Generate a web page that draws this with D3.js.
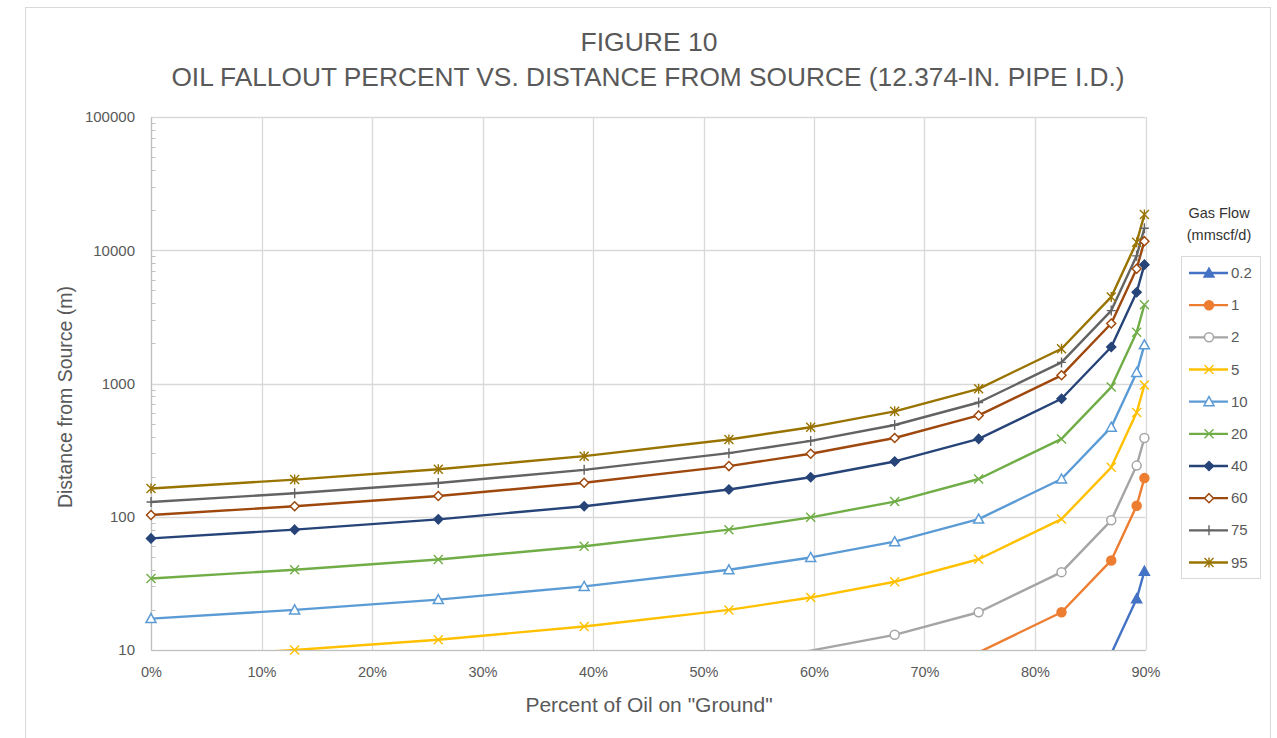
<!DOCTYPE html>
<html>
<head>
<meta charset="utf-8">
<script src="https://cdn.jsdelivr.net/npm/d3@7"></script>
<style>
  html, body { margin: 0; padding: 0; background: #fff; }
  svg { display: block; font-family: "Liberation Sans", Arial, Helvetica, sans-serif; }
</style>
</head>
<body>
<svg id="chart" width="1277" height="738"></svg>
<script>
// Fraction of oil that has fallen to the ground at each computed distance
const fallout = [0, 0.13, 0.26, 0.392, 0.523, 0.597, 0.673, 0.749, 0.824, 0.869, 0.892, 0.899];

// Gas flow rates (mmscf/d), one curve each
const gasFlows = ["0.2", "1", "2", "5", "10", "20", "40", "60", "75", "95"];

// Distance from source (m) for each gas flow
const dist_0_2 = [0.34, 0.40, 0.48, 0.60, 0.80, 0.99, 1.3, 1.92, 3.84, 9.4, 24.2, 39];
const dist_1   = [1.72, 2.0, 2.39, 3.0, 4.0, 4.95, 6.5, 9.6, 19.2, 47, 121, 195];
const dist_2   = [3.44, 4.0, 4.78, 6.0, 8.0, 9.9, 13.0, 19.2, 38.4, 94, 242, 390];
const dist_5   = [8.6, 10.0, 11.95, 15.0, 20.0, 24.75, 32.5, 48, 96, 235, 605, 975];
const dist_10  = [17.2, 20.0, 23.9, 30, 40, 49.5, 65, 96, 192, 470, 1210, 1950];
const dist_20  = [34.4, 40, 47.8, 60, 80, 99, 130, 192, 384, 940, 2420, 3900];
const dist_40  = [68.8, 80, 95.6, 120, 160, 198, 260, 384, 768, 1880, 4840, 7800];
const dist_60  = [103, 120, 143, 180, 240, 297, 390, 576, 1152, 2820, 7260, 11700];
const dist_75  = [129, 150, 179, 225, 300, 371, 488, 720, 1440, 3525, 9075, 14625];
const dist_95  = [163, 190, 227, 285, 380, 470, 618, 912, 1824, 4465, 11495, 18525];

const xTicks = [0, 0.1, 0.2, 0.3, 0.4, 0.5, 0.6, 0.7, 0.8, 0.9];
const yTicks = [10, 100, 1000, 10000, 100000];

const seriesValues = [dist_0_2, dist_1, dist_2, dist_5, dist_10, dist_20, dist_40, dist_60, dist_75, dist_95];
const seriesColors = ["#4472C4", "#ED7D31", "#A5A5A5", "#FFC000", "#5B9BD5", "#70AD47", "#264478", "#9E480E", "#636363", "#997300"];
const seriesMarkers = ["triangle", "circle", "circleOpen", "x", "triangleOpen", "x", "diamond", "diamondOpen", "plus", "star"];

const series = gasFlows.map((name, i) => ({
  name,
  color: seriesColors[i],
  marker: seriesMarkers[i],
  points: fallout.map((f, j) => ({ x: f, y: seriesValues[i][j] }))
}));

const svg = d3.select("#chart");
const plot = { left: 151, right: 1145.5, top: 117, bottom: 650 };
const textGrey = "#595959";
const gridGrey = "#D9D9D9";

// Outer chart frame
svg.append("rect")
  .attr("x", 25.5).attr("y", 7.5)
  .attr("width", 1245).attr("height", 760)
  .attr("fill", "#fff").attr("stroke", "#D9D9D9").attr("stroke-width", 1);

const x = d3.scaleLinear().domain([0, 0.9]).range([plot.left, plot.right]);
const y = d3.scaleLog().domain([10, 100000]).range([plot.bottom, plot.top]);

// Title
svg.append("text")
  .attr("x", 649).attr("y", 51)
  .attr("text-anchor", "middle")
  .attr("fill", textGrey)
  .style("font-size", "26.5px")
  .text("FIGURE 10");
svg.append("text")
  .attr("x", 648).attr("y", 86)
  .attr("text-anchor", "middle")
  .attr("fill", textGrey)
  .style("font-size", "26.3px")
  .text("OIL FALLOUT PERCENT VS. DISTANCE FROM SOURCE (12.374-IN. PIPE I.D.)");

// Gridlines
const grid = svg.append("g");
grid.selectAll("line.h")
  .data(yTicks)
  .join("line")
  .attr("x1", plot.left).attr("x2", plot.right)
  .attr("y1", d => Math.round(y(d)) + 0.5).attr("y2", d => Math.round(y(d)) + 0.5)
  .attr("stroke", gridGrey).attr("stroke-width", 1.3);
grid.selectAll("line.v")
  .data(xTicks)
  .join("line")
  .attr("x1", d => Math.round(x(d)) + 0.5).attr("x2", d => Math.round(x(d)) + 0.5)
  .attr("y1", plot.top).attr("y2", plot.bottom)
  .attr("stroke", gridGrey).attr("stroke-width", 1.3);

// Y axis with minor log ticks on the inside
const yAxis = d3.axisLeft(y)
  .tickValues(yTicks)
  .tickFormat(d3.format("d"))
  .tickSize(0)
  .tickPadding(16);
const gy = svg.append("g")
  .attr("transform", `translate(${plot.left},0)`)
  .call(yAxis);
gy.select(".domain").attr("stroke", "#BFBFBF").attr("stroke-width", 1.2);
gy.selectAll("text").attr("fill", textGrey).style("font-size", "15px");

const minorTicks = [];
for (let dec = 10; dec < 100000; dec *= 10) {
  for (let k = 2; k <= 9; k++) minorTicks.push(dec * k);
}
svg.append("g").selectAll("line")
  .data(minorTicks)
  .join("line")
  .attr("x1", plot.left).attr("x2", plot.left + 4.5)
  .attr("y1", d => Math.round(y(d)) + 0.5).attr("y2", d => Math.round(y(d)) + 0.5)
  .attr("stroke", "#BFBFBF").attr("stroke-width", 1);

// X axis
const xAxis = d3.axisBottom(x)
  .tickValues(xTicks)
  .tickFormat(d3.format(".0%"))
  .tickSize(0)
  .tickPadding(17);
const gx = svg.append("g")
  .attr("transform", `translate(0,${plot.bottom})`)
  .call(xAxis);
gx.select(".domain").attr("stroke", "#BFBFBF").attr("stroke-width", 1.2);
gx.selectAll("text").attr("fill", textGrey).style("font-size", "14.5px");

// Axis titles
svg.append("text")
  .attr("x", 649).attr("y", 712)
  .attr("text-anchor", "middle")
  .attr("fill", textGrey)
  .style("font-size", "21px")
  .text("Percent of Oil on \"Ground\"");
svg.append("text")
  .attr("transform", "translate(72,397) rotate(-90)")
  .attr("text-anchor", "middle")
  .attr("fill", textGrey)
  .style("font-size", "19.5px")
  .text("Distance from Source (m)");

// Marker drawing
function drawMarker(g, kind, color) {
  const s = 4.5;
  switch (kind) {
    case "triangle":
    case "triangleOpen":
      g.append("path")
        .attr("d", `M0,${-s - 0.5}L${s + 0.5},${s - 0.5}L${-s - 0.5},${s - 0.5}Z`)
        .attr("fill", kind === "triangle" ? color : "#fff")
        .attr("stroke", color).attr("stroke-width", 1.5);
      break;
    case "circle":
    case "circleOpen":
      g.append("circle").attr("r", s)
        .attr("fill", kind === "circle" ? color : "#fff")
        .attr("stroke", color).attr("stroke-width", 1.5);
      break;
    case "diamond":
    case "diamondOpen":
      g.append("path")
        .attr("d", `M0,${-s}L${s},0L0,${s}L${-s},0Z`)
        .attr("fill", kind === "diamond" ? color : "#fff")
        .attr("stroke", color).attr("stroke-width", 1.5);
      break;
    case "x":
      g.append("path")
        .attr("d", `M${-s},${-s}L${s},${s}M${-s},${s}L${s},${-s}`)
        .attr("fill", "none").attr("stroke", color).attr("stroke-width", 1.4);
      break;
    case "plus":
      g.append("path")
        .attr("d", `M${-s},0L${s},0M0,${-s - 0.5}L0,${s + 0.5}`)
        .attr("fill", "none").attr("stroke", color).attr("stroke-width", 1.4);
      break;
    case "star":
      g.append("path")
        .attr("d", `M${-s},${-s}L${s},${s}M${-s},${s}L${s},${-s}M0,${-s - 0.5}L0,${s + 0.5}`)
        .attr("fill", "none").attr("stroke", color).attr("stroke-width", 1.4);
      break;
  }
}

// Series lines, clipped to the plotting area
svg.append("clipPath").attr("id", "plotClip")
  .append("rect")
  .attr("x", plot.left).attr("y", plot.top)
  .attr("width", plot.right - plot.left + 6)
  .attr("height", plot.bottom - plot.top);

const line = d3.line().x(d => x(d.x)).y(d => y(d.y));
const seriesG = svg.append("g");
series.forEach(s => {
  seriesG.append("path")
    .datum(s.points)
    .attr("clip-path", "url(#plotClip)")
    .attr("fill", "none")
    .attr("stroke", s.color)
    .attr("stroke-width", 2.4)
    .attr("stroke-linejoin", "round")
    .attr("d", line);
});
series.forEach(s => {
  s.points.filter(p => p.y >= 10).forEach(p => {
    const g = seriesG.append("g").attr("transform", `translate(${x(p.x)},${y(p.y)})`);
    drawMarker(g, s.marker, s.color);
  });
});

// Legend
const legend = svg.append("g");
legend.append("text")
  .attr("x", 1219).attr("y", 218)
  .attr("text-anchor", "middle")
  .attr("fill", "#333")
  .style("font-size", "14.5px")
  .text("Gas Flow");
legend.append("text")
  .attr("x", 1219).attr("y", 240)
  .attr("text-anchor", "middle")
  .attr("fill", "#333")
  .style("font-size", "14.5px")
  .text("(mmscf/d)");
legend.append("rect")
  .attr("x", 1181.5).attr("y", 256.5)
  .attr("width", 79).attr("height", 322)
  .attr("fill", "#fff").attr("stroke", "#D9D9D9").attr("stroke-width", 1);

const legendY = d3.scalePoint().domain(gasFlows).range([273, 562.5]);
series.forEach(s => {
  const ly = legendY(s.name);
  legend.append("line")
    .attr("x1", 1189).attr("x2", 1228)
    .attr("y1", ly).attr("y2", ly)
    .attr("stroke", s.color).attr("stroke-width", 2.4);
  const g = legend.append("g").attr("transform", `translate(1209,${ly})`);
  drawMarker(g, s.marker, s.color);
  legend.append("text")
    .attr("x", 1231).attr("y", ly + 5)
    .attr("fill", textGrey)
    .style("font-size", "15px")
    .text(s.name);
});
</script>
</body>
</html>
